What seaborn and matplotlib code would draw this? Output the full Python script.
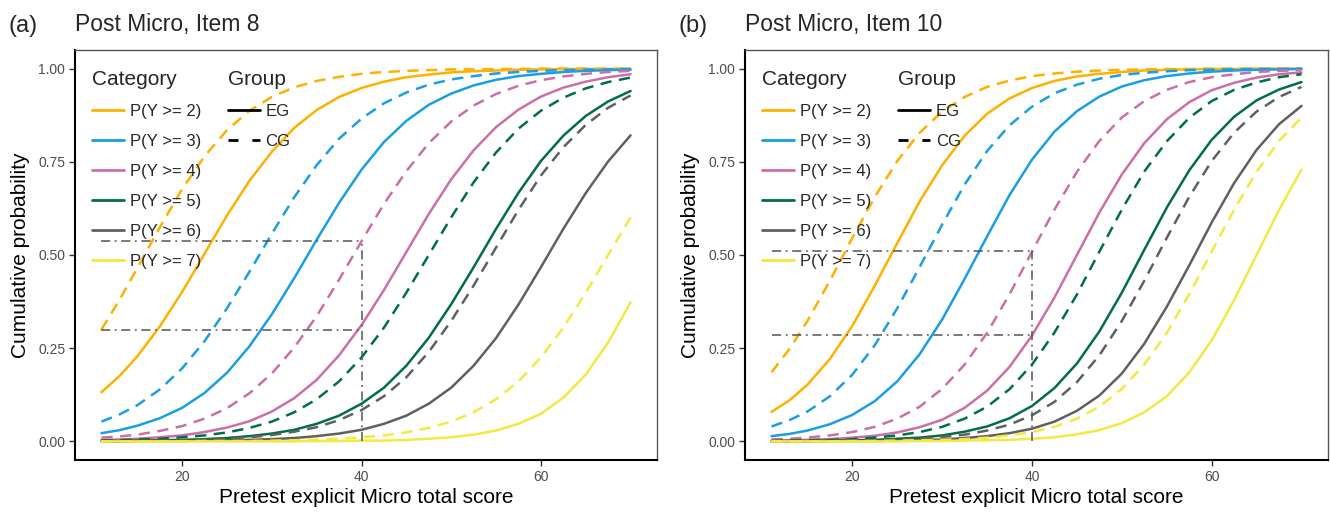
import matplotlib
matplotlib.use("Agg")
import matplotlib.pyplot as plt
from matplotlib.lines import Line2D
import seaborn as sns
import pandas as pd

score = [11, 13, 15, 17.5, 20, 22.5, 25, 27.5, 30, 32.5, 35, 37.5, 40,
         42.5, 45, 47.5, 50, 52.5, 55, 57.5, 60, 62.5, 65, 67.5, 70]
categories = ["P(Y >= 2)", "P(Y >= 3)", "P(Y >= 4)", "P(Y >= 5)", "P(Y >= 6)", "P(Y >= 7)"]
groups = ["EG", "CG"]
titles = ["Post Micro, Item 8", "Post Micro, Item 10"]
panel_tags = ["(a)", "(b)"]

# (a) Item 8
a_eg = [
    [0.132, 0.175, 0.228, 0.308, 0.401, 0.504, 0.606, 0.699, 0.777, 0.841, 0.889, 0.924, 0.948,
     0.965, 0.977, 0.984, 0.990, 0.993, 0.995, 0.997, 0.998, 0.999, 0.999, 0.999, 1.000],
    [0.022, 0.030, 0.042, 0.062, 0.090, 0.130, 0.184, 0.255, 0.341, 0.438, 0.541, 0.640, 0.729,
     0.803, 0.860, 0.903, 0.933, 0.955, 0.970, 0.980, 0.986, 0.991, 0.994, 0.996, 0.997],
    [0.004, 0.005, 0.007, 0.011, 0.016, 0.025, 0.037, 0.054, 0.080, 0.116, 0.165, 0.231, 0.312,
     0.406, 0.508, 0.610, 0.703, 0.781, 0.843, 0.890, 0.925, 0.949, 0.965, 0.977, 0.985],
    [0.001, 0.001, 0.002, 0.003, 0.004, 0.006, 0.009, 0.014, 0.021, 0.031, 0.047, 0.069, 0.101,
     0.144, 0.203, 0.278, 0.368, 0.467, 0.570, 0.667, 0.752, 0.820, 0.873, 0.912, 0.940],
    [0.000, 0.000, 0.001, 0.001, 0.001, 0.002, 0.003, 0.004, 0.006, 0.009, 0.014, 0.021, 0.031,
     0.047, 0.069, 0.101, 0.144, 0.203, 0.277, 0.367, 0.467, 0.570, 0.666, 0.751, 0.821],
    [0.000, 0.000, 0.000, 0.000, 0.000, 0.000, 0.000, 0.000, 0.000, 0.000, 0.001, 0.001, 0.002,
     0.002, 0.004, 0.007, 0.011, 0.018, 0.029, 0.047, 0.074, 0.117, 0.179, 0.265, 0.373],
]
a_cg = [
    [0.300, 0.379, 0.465, 0.574, 0.677, 0.765, 0.835, 0.887, 0.924, 0.950, 0.967, 0.978, 0.986,
     0.991, 0.994, 0.996, 0.998, 0.998, 0.999, 0.999, 1.000, 1.000, 1.000, 1.000, 1.000],
    [0.053, 0.072, 0.097, 0.139, 0.196, 0.269, 0.357, 0.455, 0.557, 0.655, 0.741, 0.812, 0.866,
     0.907, 0.936, 0.957, 0.971, 0.980, 0.987, 0.991, 0.994, 0.996, 0.997, 0.998, 0.999],
    [0.010, 0.013, 0.018, 0.028, 0.041, 0.061, 0.089, 0.129, 0.182, 0.252, 0.336, 0.434, 0.537,
     0.637, 0.725, 0.800, 0.858, 0.901, 0.932, 0.954, 0.969, 0.979, 0.986, 0.991, 0.994],
    [0.002, 0.003, 0.005, 0.007, 0.011, 0.016, 0.024, 0.036, 0.053, 0.078, 0.113, 0.161, 0.225,
     0.305, 0.399, 0.500, 0.601, 0.695, 0.775, 0.839, 0.887, 0.922, 0.947, 0.964, 0.976],
    [0.001, 0.001, 0.001, 0.002, 0.003, 0.005, 0.008, 0.011, 0.017, 0.026, 0.038, 0.057, 0.084,
     0.121, 0.172, 0.240, 0.323, 0.418, 0.520, 0.621, 0.713, 0.789, 0.849, 0.895, 0.928],
    [0.000, 0.000, 0.000, 0.000, 0.000, 0.001, 0.001, 0.001, 0.002, 0.003, 0.005, 0.007, 0.011,
     0.016, 0.024, 0.036, 0.053, 0.078, 0.113, 0.161, 0.225, 0.305, 0.399, 0.500, 0.601],
]
# (b) Item 10
b_eg = [
    [0.079, 0.110, 0.152, 0.221, 0.310, 0.418, 0.532, 0.644, 0.741, 0.820, 0.879, 0.920, 0.948,
     0.967, 0.979, 0.986, 0.991, 0.995, 0.997, 0.998, 0.999, 0.999, 1.000, 1.000, 1.000],
    [0.014, 0.020, 0.029, 0.046, 0.071, 0.108, 0.161, 0.234, 0.327, 0.436, 0.550, 0.661, 0.756,
     0.831, 0.886, 0.925, 0.952, 0.969, 0.980, 0.987, 0.992, 0.995, 0.997, 0.998, 0.999],
    [0.002, 0.003, 0.004, 0.006, 0.010, 0.015, 0.024, 0.038, 0.058, 0.090, 0.136, 0.200, 0.284,
     0.386, 0.500, 0.614, 0.716, 0.800, 0.864, 0.910, 0.942, 0.962, 0.976, 0.985, 0.990],
    [0.000, 0.001, 0.001, 0.002, 0.003, 0.004, 0.007, 0.010, 0.016, 0.026, 0.040, 0.062, 0.095,
     0.143, 0.209, 0.295, 0.399, 0.514, 0.627, 0.727, 0.809, 0.871, 0.915, 0.944, 0.964],
    [0.000, 0.000, 0.000, 0.001, 0.001, 0.001, 0.002, 0.003, 0.005, 0.009, 0.014, 0.022, 0.034,
     0.053, 0.082, 0.123, 0.182, 0.262, 0.361, 0.472, 0.587, 0.693, 0.782, 0.851, 0.900],
    [0.000, 0.000, 0.000, 0.000, 0.000, 0.000, 0.000, 0.001, 0.001, 0.002, 0.003, 0.004, 0.007,
     0.011, 0.019, 0.030, 0.049, 0.078, 0.121, 0.185, 0.271, 0.379, 0.500, 0.621, 0.729],
]
b_cg = [
    [0.185, 0.248, 0.323, 0.431, 0.546, 0.656, 0.752, 0.828, 0.885, 0.924, 0.951, 0.968, 0.980,
     0.987, 0.992, 0.995, 0.997, 0.998, 0.999, 0.999, 1.000, 1.000, 1.000, 1.000, 1.000],
    [0.040, 0.057, 0.080, 0.121, 0.179, 0.258, 0.357, 0.468, 0.582, 0.689, 0.779, 0.848, 0.898,
     0.934, 0.957, 0.973, 0.983, 0.989, 0.993, 0.996, 0.997, 0.998, 0.999, 0.999, 1.000],
    [0.005, 0.007, 0.010, 0.016, 0.025, 0.039, 0.061, 0.093, 0.141, 0.206, 0.291, 0.395, 0.509,
     0.622, 0.723, 0.806, 0.869, 0.913, 0.943, 0.964, 0.977, 0.985, 0.991, 0.994, 0.996],
    [0.001, 0.002, 0.003, 0.004, 0.006, 0.010, 0.016, 0.025, 0.039, 0.061, 0.093, 0.140, 0.206,
     0.292, 0.394, 0.509, 0.622, 0.724, 0.805, 0.868, 0.913, 0.943, 0.963, 0.977, 0.985],
    [0.000, 0.001, 0.001, 0.001, 0.002, 0.003, 0.005, 0.007, 0.012, 0.018, 0.029, 0.045, 0.070,
     0.106, 0.159, 0.231, 0.323, 0.431, 0.546, 0.656, 0.752, 0.828, 0.885, 0.924, 0.951],
    [0.000, 0.000, 0.000, 0.000, 0.001, 0.001, 0.002, 0.003, 0.004, 0.006, 0.010, 0.016, 0.025,
     0.039, 0.061, 0.093, 0.141, 0.206, 0.291, 0.395, 0.509, 0.622, 0.723, 0.806, 0.869],
]

# dash-dot guide lines: cut score and the two probabilities read there
ref_x = 40
ref_lo = [0.300, 0.286]
ref_hi = [0.537, 0.511]

colors = ["#FFB000", "#1A9EE6", "#CC6FA8", "#006E46", "#606060", "#F5E840"]


def build_frame(eg, cg):
    rows = []
    for grp, table in zip(groups, [eg, cg]):
        for cat, vals in zip(categories, table):
            for x, p in zip(score, vals):
                rows.append({"score": x, "p": p, "Category": cat, "Group": grp})
    return pd.DataFrame(rows)


sns.set_theme(style="white")
plt.rcParams["font.family"] = ["Liberation Sans", "DejaVu Sans"]

fig = plt.figure(figsize=(13.3, 5.12), dpi=100)
ax_a = fig.add_axes([75 / 1330, 52 / 512, 582 / 1330, 410 / 512])
ax_b = fig.add_axes([745 / 1330, 52 / 512, 583 / 1330, 410 / 512])

palette = dict(zip(categories, colors))
dashes = {"EG": "", "CG": (4.5, 3)}

panels = [(ax_a, a_eg, a_cg), (ax_b, b_eg, b_cg)]
for i, (ax, eg, cg) in enumerate(panels):
    df = build_frame(eg, cg)
    sns.lineplot(data=df, x="score", y="p", hue="Category", style="Group",
                 palette=palette, dashes=dashes, linewidth=1.8,
                 estimator=None, legend=False, ax=ax)

    # guide lines
    guide = dict(color="#555555", linewidth=1.1, linestyle=(0, (6, 3, 1.2, 3)))
    ax.plot([score[0], ref_x], [ref_lo[i], ref_lo[i]], **guide)
    ax.plot([score[0], ref_x], [ref_hi[i], ref_hi[i]], **guide)
    ax.plot([ref_x, ref_x], [0, ref_hi[i]], **guide)

    ax.set_xlim(8.05, 72.95)
    ax.set_ylim(-0.05, 1.05)
    ax.set_xticks([20, 40, 60])
    ax.set_yticks([0, 0.25, 0.5, 0.75, 1.0])
    ax.set_yticklabels(["0.00", "0.25", "0.50", "0.75", "1.00"])
    ax.tick_params(axis="both", which="both", direction="out", length=4, width=1,
                   color="#333333", labelcolor="#4D4D4D", labelsize=10,
                   bottom=True, left=True, pad=3)
    for side in ["top", "right"]:
        ax.spines[side].set_color("#555555")
        ax.spines[side].set_linewidth(1.0)
    for side in ["left", "bottom"]:
        ax.spines[side].set_color("black")
        ax.spines[side].set_linewidth(1.5)

    ax.set_xlabel("Pretest explicit Micro total score", fontsize=15, color="black")
    ax.set_ylabel("Cumulative probability", fontsize=15, color="black")
    ax.xaxis.set_label_coords(0.5, -0.068)
    ax.yaxis.set_label_coords(-0.078, 0.5)

    ax.text(0.0, 1.062, titles[i], transform=ax.transAxes, fontsize=16.5,
            ha="left", va="center")

    leg_style = dict(loc="upper left", frameon=False, fontsize=12, title_fontsize=15,
                     alignment="left", handlelength=1.9, handletextpad=0.35,
                     labelspacing=0.9, borderpad=0, borderaxespad=0)
    cat_handles = [Line2D([0], [0], color=c, lw=2) for c in colors]
    leg1 = ax.legend(cat_handles, categories, title="Category",
                     bbox_to_anchor=(0.03, 0.952), **leg_style)
    ax.add_artist(leg1)
    grp_handles = [Line2D([0], [0], color="black", lw=2),
                   Line2D([0], [0], color="black", lw=2, linestyle=(0, (3.6, 5)))]
    ax.legend(grp_handles, groups, title="Group",
              bbox_to_anchor=(0.263, 0.952), **leg_style)

fig.text(8 / 1330, 1 - 26 / 512, panel_tags[0], fontsize=17, ha="left", va="center")
fig.text(678 / 1330, 1 - 26 / 512, panel_tags[1], fontsize=17, ha="left", va="center")

fig.savefig("out.png", dpi=100)
